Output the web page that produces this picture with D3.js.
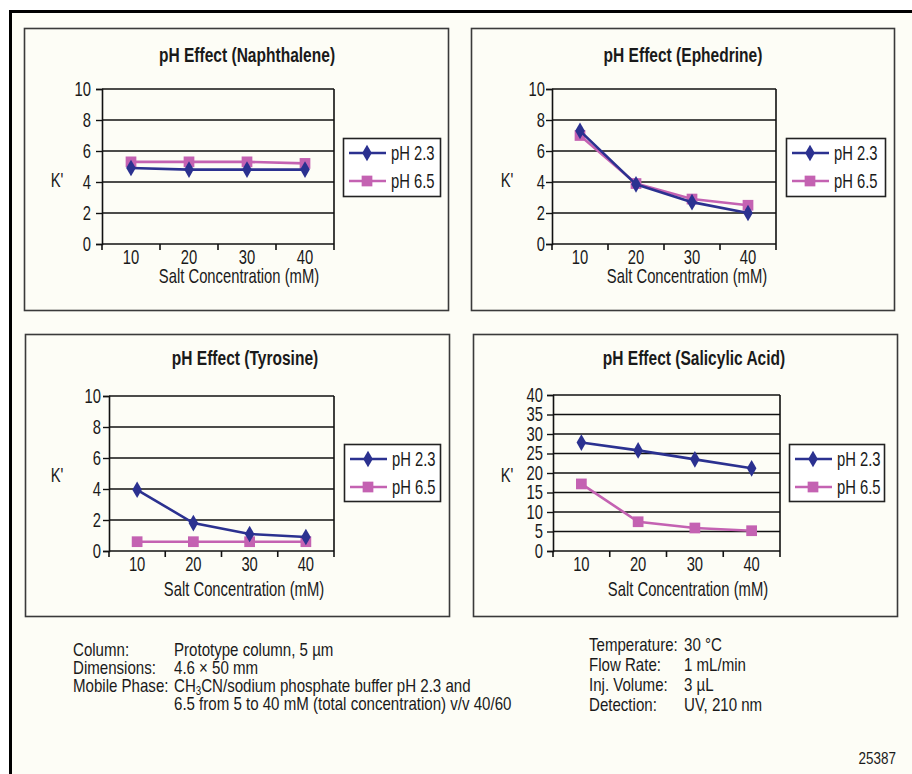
<!DOCTYPE html>
<html>
<head>
<meta charset="utf-8">
<script src="https://cdn.jsdelivr.net/npm/d3@7"></script>
<style>
    body { margin: 0; background: #ffffff; }
    svg { display: block; }
    text { font-family: "Liberation Sans", Arial, sans-serif; fill: #1a1a1a; }
</style>
</head>
<body>
<div id="chart"></div>
<script>
const saltConc = ["10", "20", "30", "40"]
const seriesNames = ["pH 2.3", "pH 6.5"]

const naphthalene23 = [4.9, 4.8, 4.8, 4.8]
const naphthalene65 = [5.3, 5.3, 5.3, 5.2]
const ephedrine23 = [7.3, 3.85, 2.7, 2.0]
const ephedrine65 = [7.0, 3.9, 2.9, 2.5]
const tyrosine23 = [3.95, 1.8, 1.1, 0.9]
const tyrosine65 = [0.6, 0.6, 0.6, 0.6]
const salicylic23 = [27.8, 25.8, 23.5, 21.2]
const salicylic65 = [17.2, 7.5, 5.9, 5.2]

const titles = ["pH Effect (Naphthalene)", "pH Effect (Ephedrine)", "pH Effect (Tyrosine)", "pH Effect (Salicylic Acid)"]
const yTicks10 = [0, 2, 4, 6, 8, 10]
const yTicks40 = [0, 5, 10, 15, 20, 25, 30, 35, 40]

const conditionsLeft = [
    ["Column:", "Prototype column, 5 µm"],
    ["Dimensions:", "4.6 × 50 mm"],
    ["Mobile Phase:", "CH|3|CN/sodium phosphate buffer pH 2.3 and"],
    ["", "6.5 from 5 to 40 mM (total concentration) v/v 40/60"]
]
const conditionsRight = [
    ["Temperature:", "30 °C"],
    ["Flow Rate:", "1 mL/min"],
    ["Inj. Volume:", "3 µL"],
    ["Detection:", "UV, 210 nm"]
]
const figureId = "25387"

const width = 912
const height = 774
const bg = "#fdfdf6"
const blue = "#2b3190"
const pink = "#c462b2"
const sxChart = 0.74   // horizontal squeeze, mimics a condensed face
const sxNote = 0.815

// panel layout (frame, plot area, legend, label positions)
const panels = [
    { title: titles[0], s: [naphthalene23, naphthalene65], ticks: yTicks10, pad: 5,
      box: [24, 28, 424, 282], plot: [102, 89, 232, 155], titleX: 247, titleY: 62,
      xTitleX: 239, xTitleY: 283, xLabY: 264, kX: 57, kY: 187, leg: [343, 138, 97, 58] },
    { title: titles[1], s: [ephedrine23, ephedrine65], ticks: yTicks10, pad: 1,
      box: [471, 28, 423, 282], plot: [552, 89, 224, 155], titleX: 683, titleY: 62,
      xTitleX: 687, xTitleY: 283, xLabY: 264, kX: 507, kY: 187, leg: [786, 138, 99, 58] },
    { title: titles[2], s: [tyrosine23, tyrosine65], ticks: yTicks10, pad: 2,
      box: [25, 334, 424, 282], plot: [109, 396, 225, 155], titleX: 245, titleY: 365,
      xTitleX: 244, xTitleY: 596, xLabY: 571, kX: 57, kY: 482, leg: [344, 444, 96, 57] },
    { title: titles[3], s: [salicylic23, salicylic65], ticks: yTicks40, pad: 4,
      box: [473, 334, 424, 282], plot: [553, 395, 227, 156], titleX: 694, titleY: 365,
      xTitleX: 688, xTitleY: 596, xLabY: 571, kX: 507, kY: 482, leg: [789, 444, 95, 57] }
]

const svg = d3.select("#chart").append("svg")
    .attr("width", width)
    .attr("height", height)

const label = (sel, x, y, str, size, anchor, weight, sx) => sel.append("text")
    .attr("transform", `translate(${x},${y}) scale(${sx || sxChart},1)`)
    .attr("text-anchor", anchor || "start")
    .style("font-size", size + "px")
    .style("font-weight", weight || null)
    .text(str)

svg.append("rect")
    .attr("x", 10.5).attr("y", 11.5)
    .attr("width", width + 10).attr("height", height + 10)
    .attr("fill", bg)
    .attr("stroke", "#000")
    .attr("stroke-width", 3)

const diamond = d3.symbol().type(d3.symbolDiamond).size(80)
const square = d3.symbol().type(d3.symbolSquare).size(115)
const markers = [diamond, square]
const colors = [blue, pink]

panels.forEach(p => {
    const g = svg.append("g")
    const [bx, by, bw, bh] = p.box
    const [px, py, pw, ph] = p.plot

    g.append("rect")
        .attr("x", bx + 0.5).attr("y", by + 0.5)
        .attr("width", bw).attr("height", bh)
        .attr("fill", bg)
        .attr("stroke", "#3a3a3a")
        .attr("stroke-width", 1.6)

    label(g, p.titleX, p.titleY, p.title, 21, "middle", "bold")

    const x = d3.scaleBand().domain(saltConc).range([px, px + pw])
    const y = d3.scaleLinear().domain([0, d3.max(p.ticks)]).range([py + ph, py])

    // grid lines
    g.append("g")
        .selectAll("line")
        .data(p.ticks.slice(1))
        .join("line")
        .attr("x1", px).attr("x2", px + pw)
        .attr("y1", d => y(d)).attr("y2", d => y(d))
        .attr("stroke", "#111")
        .attr("stroke-width", 1.4)

    g.append("line")
        .attr("x1", px + pw).attr("x2", px + pw)
        .attr("y1", py).attr("y2", py + ph + 6)
        .attr("stroke", "#111")
        .attr("stroke-width", 1.6)

    const yAxis = g.append("g")
        .attr("transform", `translate(${px},0)`)
        .call(d3.axisLeft(y).tickValues(p.ticks).tickSize(6).tickPadding(p.pad))
    yAxis.select(".domain").attr("stroke", "#111").attr("stroke-width", 1.6)
    yAxis.selectAll(".tick line").attr("stroke", "#111").attr("stroke-width", 1.4)
    yAxis.selectAll(".tick text")
        .attr("x", -(6 + p.pad) / sxChart)
        .attr("transform", `scale(${sxChart},1)`)
        .style("font-size", "20px")
        .attr("fill", "#1a1a1a")

    // x axis: ticks sit on band edges, labels at band centres
    const xAxis = g.append("g")
        .attr("transform", `translate(0,${py + ph})`)
    xAxis.append("line")
        .attr("x1", px).attr("x2", px + pw)
        .attr("stroke", "#111")
        .attr("stroke-width", 1.6)
    xAxis.selectAll("line.tk")
        .data(saltConc)
        .join("line")
        .attr("class", "tk")
        .attr("x1", d => x(d)).attr("x2", d => x(d))
        .attr("y1", 0).attr("y2", 6)
        .attr("stroke", "#111")
        .attr("stroke-width", 1.6)
    saltConc.forEach(d => label(xAxis, x(d) + x.bandwidth() / 2, p.xLabY - py - ph, d, 20, "middle"))

    label(g, p.xTitleX, p.xTitleY, "Salt Concentration (mM)", 20, "middle")
    label(g, p.kX, p.kY, "K'", 20, "middle")

    const line = d3.line()
        .x((d, i) => x(saltConc[i]) + x.bandwidth() / 2)
        .y(d => y(d))

    // pink first so blue sits on top where they cross
    ;[1, 0].forEach(k => {
        g.append("path")
            .datum(p.s[k])
            .attr("fill", "none")
            .attr("stroke", colors[k])
            .attr("stroke-width", 2.6)
            .attr("d", line)
        g.append("g")
            .selectAll("path")
            .data(p.s[k])
            .join("path")
            .attr("transform", (d, i) => `translate(${x(saltConc[i]) + x.bandwidth() / 2},${y(d)})`)
            .attr("d", markers[k])
            .attr("fill", colors[k])
    })

    const [lx, ly, lw, lh] = p.leg
    const leg = g.append("g")
    leg.append("rect")
        .attr("x", lx + 0.5).attr("y", ly + 0.5)
        .attr("width", lw).attr("height", lh)
        .attr("fill", "#ffffff")
        .attr("stroke", "#222")
        .attr("stroke-width", 1.6)
    seriesNames.forEach((name, k) => {
        const cy = ly + 15 + k * 28
        leg.append("line")
            .attr("x1", lx + 6).attr("x2", lx + 43)
            .attr("y1", cy).attr("y2", cy)
            .attr("stroke", colors[k])
            .attr("stroke-width", 2.6)
        leg.append("path")
            .attr("transform", `translate(${lx + 24},${cy})`)
            .attr("d", markers[k])
            .attr("fill", colors[k])
        label(leg, lx + 48, cy + 7, name, 20)
    })
})

const notes = svg.append("g")

const addBlock = (rows, x0, x1, y0, dy) => {
    rows.forEach((r, i) => {
        label(notes, x0, y0 + i * dy, r[0], 18.5, null, null, sxNote)
        const t = label(notes, x1, y0 + i * dy, "", 18.5, null, null, sxNote)
        r[1].split("|").forEach((part, j) => {
            t.append("tspan")
                .attr("baseline-shift", j === 1 ? "-25%" : null)
                .style("font-size", j === 1 ? "12px" : null)
                .text(part)
        })
    })
}

addBlock(conditionsLeft, 73, 174, 656, 18)
addBlock(conditionsRight, 589, 684, 651, 20)

label(notes, 896, 764, figureId, 16.5, "end", null, sxNote)
</script>
</body>
</html>
